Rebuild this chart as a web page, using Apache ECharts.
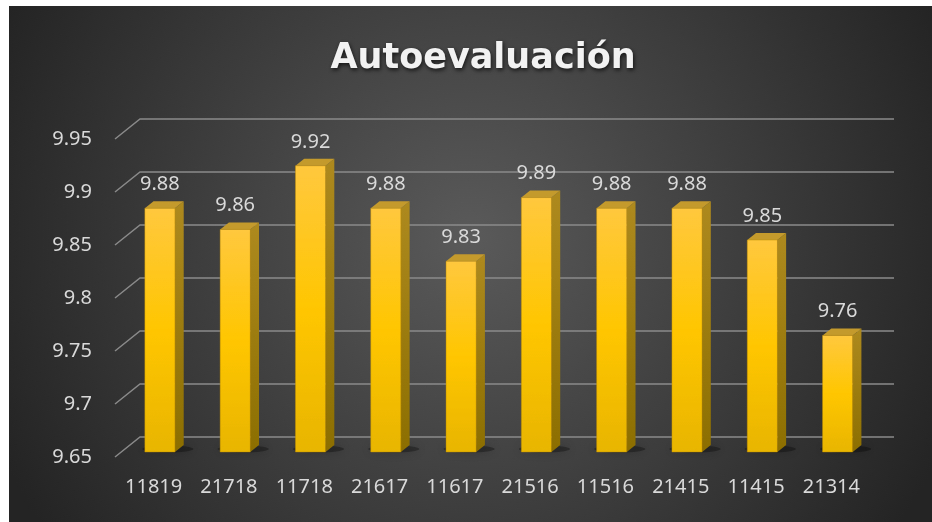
<!DOCTYPE html>
<html>
<head>
<meta charset="utf-8">
<script src="https://cdn.jsdelivr.net/npm/echarts@6/dist/echarts.min.js"></script>
<style>
  html, body { margin: 0; padding: 0; background: #fff; }
  #main { width: 932px; height: 522px; }
</style>
</head>
<body>
<div id="main"></div>
<script>
var categories = ['11819', '21718', '11718', '21617', '11617', '21516', '11516', '21415', '11415', '21314'];
var values = [9.88, 9.86, 9.92, 9.88, 9.83, 9.89, 9.88, 9.88, 9.85, 9.76];
var yTicks = [9.65, 9.7, 9.75, 9.8, 9.85, 9.9, 9.95];
var yMin = 9.65, yMax = 9.95;

var labelFont = '20px "Noto Sans"';
var textColor = '#d9d9d9';

// back wall offset of the 3D floor
var depthX = 25, depthY = -20;

function gridItem(params, api) {
    var y = api.coord([0, api.value(1)])[1];
    var cs = params.coordSys;
    var x0 = cs.x - 1;
    var x1 = cs.x + cs.width + depthX;
    return {
        type: 'polyline',
        shape: { points: [[x0, y], [x0 + depthX, y + depthY], [x1, y + depthY]] },
        style: { stroke: '#8a8a8a', lineWidth: 1.5, fill: null },
        silent: true
    };
}

function barItem(params, api) {
    var i = api.value(0), v = api.value(1);
    var base = api.coord([i, yMin]);
    var top = api.coord([i, v]);
    var bw = api.size([1, 0])[0] * 0.4;
    var f1 = 0.25, f2 = 0.6;
    var x0 = base[0] - bw / 2 + depthX * f1;
    var x1 = x0 + bw;
    var yb = base[1] + depthY * f1;
    var yt = top[1] + depthY * f1;
    var dx = depthX * (f2 - f1), dy = depthY * (f2 - f1);
    return {
        type: 'group',
        children: [{
            type: 'ellipse',
            shape: { cx: x0 + bw / 2 + 8, cy: yb - 3, rx: bw * 0.85, ry: 3.5 },
            style: { fill: 'rgba(0,0,0,0.3)', shadowBlur: 10, shadowColor: 'rgba(0,0,0,0.7)' },
            silent: true
        }, {
            type: 'polygon',
            shape: { points: [[x1, yt], [x1 + dx, yt + dy], [x1 + dx, yb + dy], [x1, yb]] },
            style: {
                fill: new echarts.graphic.LinearGradient(0, 0, 0, 1, [
                    { offset: 0, color: '#ae8a1e' },
                    { offset: 1, color: '#8c6e00' }
                ])
            }
        }, {
            type: 'polygon',
            shape: { points: [[x0, yt], [x0 + dx, yt + dy], [x1 + dx, yt + dy], [x1, yt]] },
            style: { fill: '#c49a2c' }
        }, {
            type: 'rect',
            shape: { x: x0, y: yt, width: bw, height: yb - yt },
            style: {
                fill: new echarts.graphic.LinearGradient(0, 0, 0, 1, [
                    { offset: 0, color: '#ffc83e' },
                    { offset: 0.5, color: '#ffc600' },
                    { offset: 1, color: '#e8b500' }
                ]),
                stroke: 'rgba(190,140,0,0.7)',
                lineWidth: 0.6
            }
        }, {
            type: 'text',
            style: {
                text: String(v),
                x: x0 + bw / 2,
                y: yt + dy - 7,
                align: 'center',
                verticalAlign: 'bottom',
                fill: textColor,
                font: labelFont
            }
        }]
    };
}

var myChart = echarts.init(document.getElementById('main'));

var option = {
    backgroundColor: '#ffffff',
    animation: false,
    graphic: [{
        type: 'rect',
        z: -10,
        shape: { x: 9, y: 6, width: 923, height: 516 },
        style: {
            fill: {
                type: 'radial', x: 0.5, y: 0.45, r: 1,
                colorStops: [
                    { offset: 0, color: '#5a5a5a' },
                    { offset: 1, color: '#242424' }
                ]
            }
        },
        silent: true
    }],
    title: {
        text: 'Autoevaluación',
        left: 478,
        top: 54,
        textAlign: 'center',
        textVerticalAlign: 'middle',
        textStyle: {
            fontFamily: 'DejaVu Sans',
            fontWeight: 'bold',
            fontSize: 35,
            color: '#f2f2f2',
            textShadowColor: 'rgba(0,0,0,0.7)',
            textShadowBlur: 4,
            textShadowOffsetX: 1,
            textShadowOffsetY: 2
        }
    },
    grid: { left: 116, right: 63, top: 139, bottom: 65 },
    xAxis: {
        type: 'category',
        data: categories,
        axisLine: { show: false },
        axisTick: { show: false },
        axisLabel: { color: textColor, fontFamily: 'Noto Sans', fontSize: 20, margin: 20 }
    },
    yAxis: {
        type: 'value',
        min: yMin,
        max: yMax,
        interval: 0.05,
        axisLine: { show: false },
        axisTick: { show: false },
        splitLine: { show: false },
        axisLabel: { color: textColor, fontFamily: 'Noto Sans', fontSize: 20, margin: 24 }
    },
    series: [{
        type: 'custom',
        z: 1,
        renderItem: gridItem,
        encode: { x: 0, y: 1 },
        data: yTicks.map(function (t) { return [0, t]; })
    }, {
        type: 'custom',
        z: 2,
        renderItem: barItem,
        encode: { x: 0, y: 1 },
        data: values.map(function (v, i) { return [i, v]; })
    }]
};

myChart.setOption(option);
</script>
</body>
</html>
